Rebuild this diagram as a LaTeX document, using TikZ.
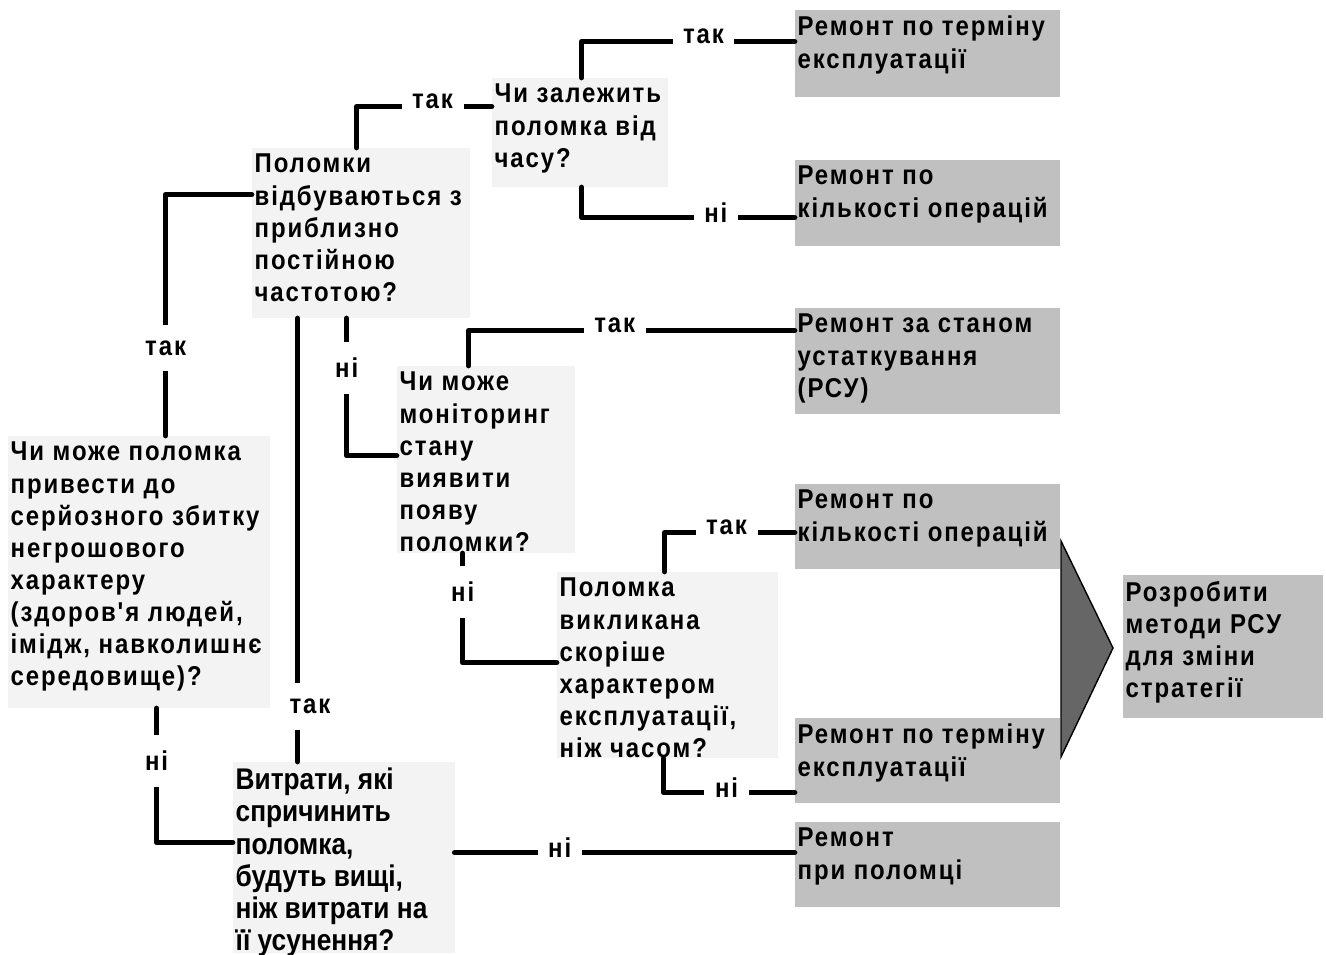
\documentclass[tikz,border=0pt]{standalone}
\usepackage{fontspec}
\setmainfont{Liberation Sans}
\newfontfamily\boxfont[LetterSpace=7, FakeStretch=0.88]{Liberation Sans}
\newfontfamily\narrowfont[FakeStretch=0.88]{Liberation Sans}
\usetikzlibrary{fit,calc}
\definecolor{askFill}{HTML}{F3F3F3}
\definecolor{actFill}{HTML}{C0C0C0}
\definecolor{arrowFill}{HTML}{666666}
\begin{document}
\begin{tikzpicture}[x=0.02cm, y=-0.02cm,
    every node/.style={font=\boxfont\bfseries\fontsize{15.5}{18.3}\selectfont},
    ask/.style={fill=askFill, inner sep=0pt},
    act/.style={fill=actFill, inner sep=0pt},
    boxtext/.style={anchor=north west, align=left, inner xsep=1.5pt, inner ysep=3.5pt},
    link/.style={line width=3.1pt, line cap=round, line join=round},
    hlab/.style={fill=white, inner xsep=6pt, inner ysep=1pt, yshift=3pt},
    vlab/.style={fill=white, inner xsep=1pt, inner ysep=9pt}
]
    \path[use as bounding box, fill=white] (0,0) rectangle (1326,955);

    % questions
    \node[ask, fit={(252,148) (470,318)}] (qFreq) {};
    \node[boxtext] (qFreqT) at (qFreq.north west) {Поломки\\відбуваються з\\приблизно\\постійною\\частотою?};
    \node[ask, fit={(492,78) (668,187)}] (qTime) {};
    \node[boxtext] (qTimeT) at (qTime.north west) {Чи залежить\\поломка від\\часу?};
    \node[ask, fit={(397,366) (575,553)}] (qMon) {};
    \node[boxtext] (qMonT) at (qMon.north west) {Чи може\\моніторинг\\стану\\виявити\\появу\\поломки?};
    \node[ask, fit={(8,436) (270,708)}] (qHarm) {};
    \node[boxtext] (qHarmT) at (qHarm.north west) {Чи може поломка\\привести до\\серйозного збитку\\негрошового\\характеру\\(здоров'я людей,\\імідж, навколишнє\\середовище)?};
    \node[ask, fit={(557,572) (778,758)}] (qUse) {};
    \node[boxtext] (qUseT) at (qUse.north west) {Поломка\\викликана\\скоріше\\характером\\експлуатації,\\ніж часом?};
    \node[ask, fit={(233,762) (455,953)}] (qCost) {};
    \node[boxtext, font=\narrowfont\bfseries\fontsize{17}{18.3}\selectfont] (qCostT) at (qCost.north west) {Витрати, які\\спричинить\\поломка,\\будуть вищі,\\ніж витрати на\\її усунення?};

    % outcomes
    \node[act, fit={(795,10) (1060,97)}] (rTime) {};
    \node[boxtext] (rTimeT) at (rTime.north west) {Ремонт по терміну\\експлуатації};
    \node[act, fit={(795,160) (1060,246)}] (rOps) {};
    \node[boxtext] (rOpsT) at (rOps.north west) {Ремонт по\\кількості операцій};
    \node[act, fit={(795,308) (1060,414)}] (rCond) {};
    \node[boxtext] (rCondT) at (rCond.north west) {Ремонт за станом\\устаткування\\(РСУ)};
    \node[act, fit={(795,484) (1060,569)}] (rOpsB) {};
    \node[boxtext] (rOpsBT) at (rOpsB.north west) {Ремонт по\\кількості операцій};
    \node[act, fit={(795,718) (1060,803)}] (rTimeB) {};
    \node[boxtext] (rTimeBT) at (rTimeB.north west) {Ремонт по терміну\\експлуатації};
    \node[act, fit={(795,822) (1060,907)}] (rFail) {};
    \node[boxtext] (rFailT) at (rFail.north west) {Ремонт\\при поломці};
    \node[act, fit={(1123,575) (1323,718)}] (devel) {};
    \node[boxtext] (develT) at (devel.north west) {Розробити\\методи РСУ\\для зміни\\стратегії};

    \filldraw[fill=arrowFill, draw=black, line width=0.8pt] (1061,541) -- (1113,648) -- (1061,757) -- cycle;

    % connectors
    \draw[link] ($(qFreq.north west)+(105,0)$) |- node[hlab, pos=0.781] {так} ($(qTime.north west)+(0,29)$);
    \draw[link] ($(qTime.north west)+(90,0)$) |- node[hlab, pos=0.786] {так} ($(rTime.north west)+(0,32)$);
    \draw[link] ($(qTime.south west)+(90,0)$) |- node[hlab, pos=0.815] {ні} ($(rOps.north west)+(0,58)$);
    \draw[link] ($(qFreq.north west)+(0,47)$) -| node[vlab, pos=0.818] {так} ($(qHarm.north west)+(158,0)$);
    \draw[link] ($(qFreq.south west)+(46,0)$) -- node[vlab, pos=0.875, xshift=7pt] {так} ($(qCost.north west)+(65,0)$);
    \draw[link] ($(qFreq.south west)+(95,0)$) |- node[vlab, pos=0.181] {ні} ($(qMon.north west)+(0,90)$);
    \draw[link] ($(qMon.north west)+(72,0)$) |- node[hlab, pos=0.724] {так} ($(rCond.north west)+(0,23)$);
    \draw[link] ($(qMon.south west)+(66,0)$) |- node[vlab, pos=0.177] {ні} ($(qUse.north west)+(0,91)$);
    \draw[link] ($(qUse.north west)+(108,0)$) |- node[hlab, pos=0.738] {так} ($(rOpsB.north west)+(0,49)$);
    \draw[link] ($(qUse.south west)+(107,0)$) |- node[hlab, pos=0.740] {ні} ($(rTimeB.north west)+(0,75)$);
    \draw[link] ($(qHarm.south west)+(149,0)$) |- node[vlab, pos=0.196] {ні} ($(qCost.north west)+(0,81)$);
    \draw[link] ($(qCost.north west)+(222,91)$) -- node[hlab, pos=0.309] {ні} ($(rFail.north west)+(0,31)$);
\end{tikzpicture}
\end{document}
